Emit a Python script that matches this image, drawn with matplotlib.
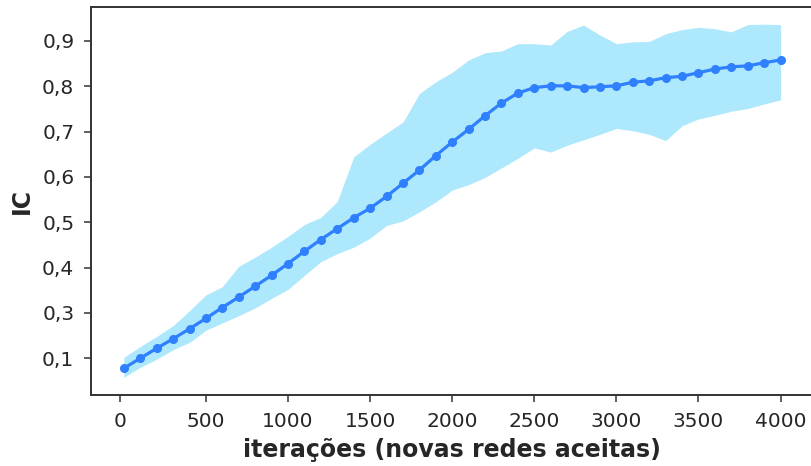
import numpy as np
import matplotlib
matplotlib.use("Agg")
import matplotlib.pyplot as plt

# iteracoes (passo de 100)
iteracoes = np.arange(0, 4001, 100)

ic_media = [0.178, 0.200, 0.222, 0.243, 0.265, 0.288, 0.312, 0.335, 0.359, 0.383,
            0.409, 0.436, 0.462, 0.486, 0.510, 0.531, 0.557, 0.586, 0.615, 0.647,
            0.677, 0.705, 0.735, 0.763, 0.785, 0.797, 0.801, 0.801, 0.797, 0.799,
            0.801, 0.809, 0.812, 0.819, 0.822, 0.830, 0.838, 0.843, 0.845, 0.852,
            0.858]

ic_sup = [0.202, 0.226, 0.248, 0.272, 0.305, 0.340, 0.358, 0.403, 0.423, 0.445,
          0.469, 0.495, 0.511, 0.546, 0.644, 0.672, 0.697, 0.721, 0.784, 0.810,
          0.831, 0.858, 0.874, 0.878, 0.894, 0.894, 0.891, 0.921, 0.935, 0.913,
          0.894, 0.898, 0.899, 0.916, 0.925, 0.930, 0.927, 0.920, 0.936, 0.937,
          0.936]

ic_inf = [0.158, 0.180, 0.198, 0.219, 0.235, 0.262, 0.278, 0.294, 0.311, 0.332,
          0.352, 0.383, 0.413, 0.431, 0.445, 0.465, 0.493, 0.503, 0.523, 0.545,
          0.571, 0.583, 0.599, 0.620, 0.641, 0.664, 0.655, 0.670, 0.682, 0.694,
          0.707, 0.702, 0.694, 0.680, 0.713, 0.728, 0.736, 0.745, 0.751, 0.761,
          0.770]

xticks = [-25, 500, 1000, 1500, 2000, 2500, 3000, 3500, 4000]
xlabels = ["0", "500", "1000", "1500", "2000", "2500", "3000", "3500", "4000"]
yticks = [0.2, 0.3, 0.4, 0.5, 0.6, 0.7, 0.8, 0.9]
ylabels = ["0,1", "0,3", "0,4", "0,5", "0,6", "0,7", "0,8", "0,9"]

texto = "#262626"

fig = plt.figure(figsize=(8.11, 4.66), dpi=100)
ax = fig.add_axes([0.1122, 0.1524, 0.8908, 0.8336])

ax.fill_between(iteracoes, ic_inf, ic_sup, color="#aee8fc", linewidth=0)
ax.plot(iteracoes, ic_media, color="#2f80ff", linewidth=2.3,
        marker="o", markersize=5.5)

ax.set_xlim(-200, 4200)
ax.set_xticks(xticks)
ax.set_xticklabels(xlabels)
ax.set_yticks(yticks)
ax.set_yticklabels(ylabels)

ax.tick_params(axis="both", labelsize=14.5, colors="#333333", labelcolor=texto,
               length=5, width=1.1, direction="out", pad=7)
for s in ax.spines.values():
    s.set_linewidth(1.4)
    s.set_color("#333333")

ax.set_xlabel("iterações (novas redes aceitas)", fontsize=17, fontweight="bold",
              color=texto, labelpad=5)
ax.set_ylabel("IC", fontsize=17, fontweight="bold", color=texto, labelpad=6)

fig.savefig("out.png", dpi=100)
